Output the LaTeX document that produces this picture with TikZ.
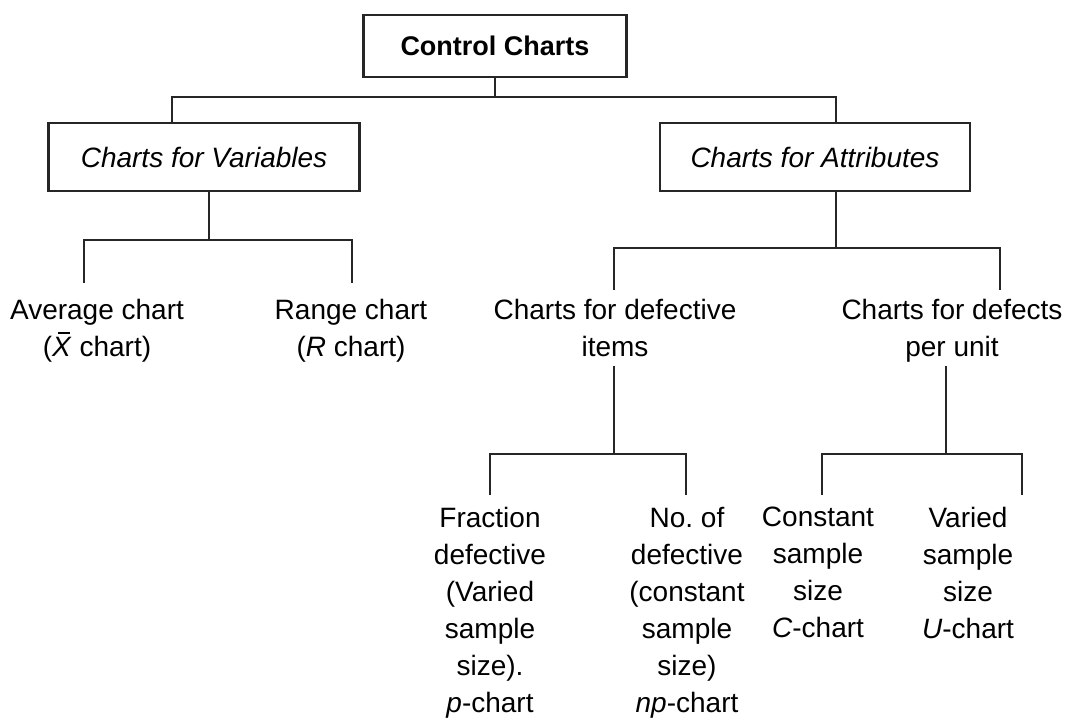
\documentclass[tikz,border=0pt]{standalone}
\usepackage{fontspec}
\setmainfont{Liberation Sans}
\newcommand\xbarsym{\leavevmode\rlap{\kern0.2em\rule[0.8em]{0.45em}{0.06em}}\textit{X}}
\begin{document}
\begin{tikzpicture}[x=1pt,y=-1pt,
  box/.style={draw=black!85, line width=2.8pt, inner sep=0pt},
  lbl/.style={align=center, inner sep=0pt, font=\fontsize{28}{37}\selectfont},
  link/.style={draw=black!85, line width=2.6pt, line cap=rect}]
\useasboundingbox (0,0) rectangle (1065,722);

% boxes
\node[box, minimum width=263pt, minimum height=62pt, font=\bfseries\fontsize{27}{30}\selectfont]
  (cc) at (495,46) {Control Charts};
\node[box, minimum width=311pt, minimum height=68pt, font=\itshape\fontsize{28}{30}\selectfont]
  (var) at (204,157) {Charts for Variables};
\node[box, minimum width=310pt, minimum height=68pt, font=\itshape\fontsize{28}{30}\selectfont]
  (att) at (815,157) {Charts for Attributes};

% leaf and intermediate labels
\node[lbl, anchor=north] (avg) at (97,299) {Average chart\\(\xbarsym\ chart)};
\node[lbl, anchor=north] (rng) at (351,299) {Range chart\\(\textit{R} chart)};
\node[lbl, anchor=north] (def) at (615,299) {Charts for defective\\items};
\node[lbl, anchor=north] (dpu) at (952,299) {Charts for defects\\per unit};
\node[lbl, anchor=north] (frac) at (490,507) {Fraction\\defective\\(Varied\\sample\\size).\\\textit{p}-chart};
\node[lbl, anchor=north] (nof) at (687,507) {No.\ of\\defective\\(constant\\sample\\size)\\\textit{np}-chart};
\node[lbl, anchor=north] (cst) at (818,507) {Constant\\sample\\size\\\textit{C}-chart};
\node[lbl, anchor=north] (vry) at (968,507) {Varied\\sample\\size\\\textit{U}-chart};

% junction bars
\coordinate (b1l) at (172,97);  \coordinate (b1r) at (836,97);
\coordinate (b2l) at (84,240);  \coordinate (b2r) at (352,240);
\coordinate (b3l) at (614,248); \coordinate (b3r) at (1000,248);
\coordinate (b4l) at (490,454); \coordinate (b4r) at (686,454);
\coordinate (b5l) at (822,454); \coordinate (b5r) at (1022,454);

% free ends of the drops above the labels
\coordinate (e2l) at (84,282);  \coordinate (e2r) at (352,282);
\coordinate (e3l) at (614,289); \coordinate (e3r) at (1000,289);
\coordinate (e4l) at (490,494); \coordinate (e4r) at (686,494);
\coordinate (e5l) at (822,494); \coordinate (e5r) at (1022,494);
\coordinate (s3) at (614,367);  \coordinate (s5) at (946,367);

% connectors
\draw[link] (cc.south) -- (cc.south |- b1l);
\draw[link] (b1l |- var.north) -- (b1l) -- (b1r) -- (b1r |- att.north);

\draw[link] (var.south -| 209,0) -- (209,240);
\draw[link] (e2l) -- (b2l) -- (b2r) -- (e2r);

\draw[link] (att.south -| b1r) -- (b1r |- b3l);
\draw[link] (e3l) -- (b3l) -- (b3r) -- (e3r);

\draw[link] (s3) -- (b3l |- b4l);
\draw[link] (e4l) -- (b4l) -- (b4r) -- (e4r);

\draw[link] (s5) -- (946,454);
\draw[link] (e5l) -- (b5l) -- (b5r) -- (e5r);
\end{tikzpicture}
\end{document}
